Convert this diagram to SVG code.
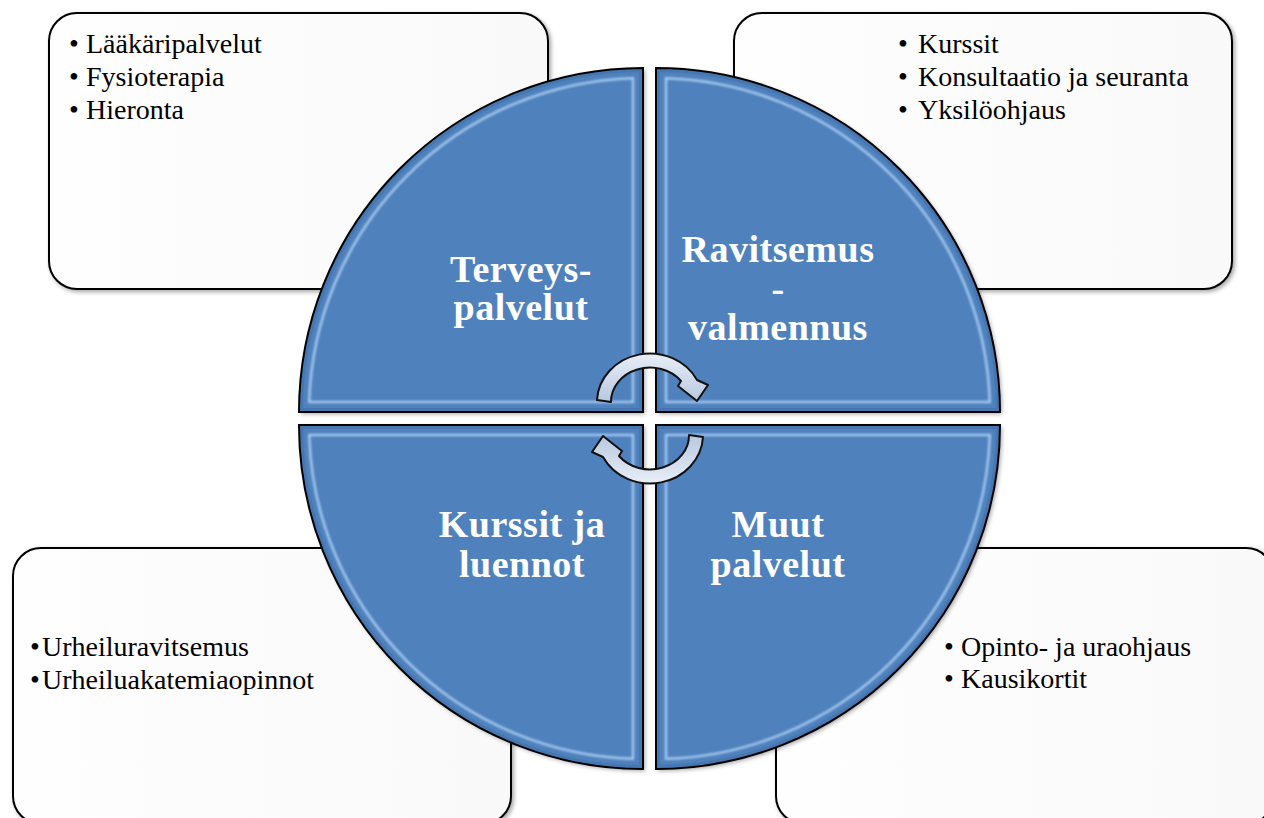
<svg xmlns="http://www.w3.org/2000/svg" xmlns:xlink="http://www.w3.org/1999/xlink" width="1264" height="818" viewBox="0 0 1264 818">
<style>
.box{fill:url(#boxGrad);stroke:#000;stroke-width:2}
.item{font-family:"Liberation Serif","Times New Roman",serif;font-size:28px;fill:#000}
.title{font-family:"Liberation Serif","Times New Roman",serif;font-size:38px;font-weight:bold;fill:#fff;text-anchor:middle;letter-spacing:0.5px}
.qfill{fill:#4f81bd}
.band{fill:none;stroke:#2c5a90;stroke-opacity:0.25;stroke-width:8}
.hl{fill:none;stroke:#bfe0ff;stroke-width:2.5;stroke-opacity:0.75}
.qedge{fill:none;stroke:#000;stroke-width:2}
.arrow{fill:url(#arrGrad);stroke:#111;stroke-width:2;stroke-linejoin:round}
</style>
<defs>
<linearGradient id="boxGrad" x1="0" y1="0" x2="1" y2="0">
<stop offset="0" stop-color="#fefefe"/>
<stop offset="1" stop-color="#f9f9f9"/>
</linearGradient>
<linearGradient id="arrGrad" x1="0" y1="0" x2="0" y2="1">
<stop offset="0" stop-color="#e8eef7"/>
<stop offset="1" stop-color="#b8c8df"/>
</linearGradient>
<filter id="shadow" x="-5%" y="-5%" width="110%" height="110%">
<feGaussianBlur in="SourceAlpha" stdDeviation="2"/>
<feOffset dx="1.5" dy="2" result="b"/>
<feFlood flood-color="#000" flood-opacity="0.35"/>
<feComposite in2="b" operator="in"/>
<feMerge><feMergeNode/><feMergeNode in="SourceGraphic"/></feMerge>
</filter>
<filter id="soft" x="-5%" y="-5%" width="110%" height="110%">
<feGaussianBlur stdDeviation="1"/>
</filter>
<path id="qTL" d="M643,412 L299,412 A344,344 0 0 1 643,68 Z"/>
<path id="qTR" d="M656,412 L656,68 A344,344 0 0 1 1000,412 Z"/>
<path id="qBR" d="M656,425 L1000,425 A344,344 0 0 1 656,769 Z"/>
<path id="qBL" d="M643,425 L643,769 A344,344 0 0 1 299,425 Z"/>
<clipPath id="cTL"><use xlink:href="#qTL"/></clipPath>
<clipPath id="cTR"><use xlink:href="#qTR"/></clipPath>
<clipPath id="cBR"><use xlink:href="#qBR"/></clipPath>
<clipPath id="cBL"><use xlink:href="#qBL"/></clipPath>
<path id="arrowTop" d="M597,400 A53,49 0 0 1 697,380 L708,385 L697,401 L678,386 L681,381 A39,34 0 0 0 611,402 Z"/>
</defs>

<rect width="1264" height="818" fill="#fff"/>

<g id="box-terveys">
<rect class="box" x="49" y="13" width="499" height="276" rx="28" filter="url(#shadow)"/>
<text class="item" y="53"><tspan x="69">•</tspan><tspan x="86">Lääkäripalvelut</tspan></text>
<text class="item" y="86"><tspan x="69">•</tspan><tspan x="86">Fysioterapia</tspan></text>
<text class="item" y="119"><tspan x="69">•</tspan><tspan x="86">Hieronta</tspan></text>
</g>
<g id="box-ravitsemus">
<rect class="box" x="734" y="13" width="498" height="276" rx="28" filter="url(#shadow)"/>
<text class="item" y="53"><tspan x="898">•</tspan><tspan x="918">Kurssit</tspan></text>
<text class="item" y="86"><tspan x="898">•</tspan><tspan x="918">Konsultaatio ja seuranta</tspan></text>
<text class="item" y="119"><tspan x="898">•</tspan><tspan x="918">Yksilöohjaus</tspan></text>
</g>
<g id="box-kurssit">
<rect class="box" x="13" y="548" width="498" height="276" rx="28" filter="url(#shadow)"/>
<text class="item" y="656"><tspan x="30">•</tspan><tspan x="42">Urheiluravitsemus</tspan></text>
<text class="item" y="689"><tspan x="30">•</tspan><tspan x="42">Urheiluakatemiaopinnot</tspan></text>
</g>
<g id="box-muut">
<rect class="box" x="776" y="548" width="498" height="276" rx="28" filter="url(#shadow)"/>
<text class="item" y="656"><tspan x="944">•</tspan><tspan x="961">Opinto- ja uraohjaus</tspan></text>
<text class="item" y="688"><tspan x="944">•</tspan><tspan x="961">Kausikortit</tspan></text>
</g>

<g id="node-terveyspalvelut">
<use xlink:href="#qTL" class="qfill" filter="url(#shadow)"/>
<g clip-path="url(#cTL)">
<use xlink:href="#qTL" class="band"/>
<path class="hl" filter="url(#soft)" d="M633,402 L309.2,402 A334,334 0 0 1 633,78.2 Z"/>
</g>
<use xlink:href="#qTL" class="qedge"/>
<text class="title" x="521" y="282">Terveys-</text>
<text class="title" x="521" y="320">palvelut</text>
</g>

<g id="node-ravitsemus">
<use xlink:href="#qTR" class="qfill" filter="url(#shadow)"/>
<g clip-path="url(#cTR)">
<use xlink:href="#qTR" class="band"/>
<path class="hl" filter="url(#soft)" d="M666,402 L666,78.2 A334,334 0 0 1 989.8,402 Z"/>
</g>
<use xlink:href="#qTR" class="qedge"/>
<text class="title" x="778" y="262">Ravitsemus</text>
<text class="title" x="778" y="301">-</text>
<text class="title" x="778" y="340">valmennus</text>
</g>

<g id="node-muut">
<use xlink:href="#qBR" class="qfill" filter="url(#shadow)"/>
<g clip-path="url(#cBR)">
<use xlink:href="#qBR" class="band"/>
<path class="hl" filter="url(#soft)" d="M666,435 L989.8,435 A334,334 0 0 1 666,758.8 Z"/>
</g>
<use xlink:href="#qBR" class="qedge"/>
<text class="title" x="778" y="537">Muut</text>
<text class="title" x="778" y="577">palvelut</text>
</g>

<g id="node-kurssit">
<use xlink:href="#qBL" class="qfill" filter="url(#shadow)"/>
<g clip-path="url(#cBL)">
<use xlink:href="#qBL" class="band"/>
<path class="hl" filter="url(#soft)" d="M633,435 L633,758.8 A334,334 0 0 1 309.2,435 Z"/>
</g>
<use xlink:href="#qBL" class="qedge"/>
<text class="title" x="522" y="537">Kurssit ja</text>
<text class="title" x="522" y="577">luennot</text>
</g>

<g id="connectors">
<use xlink:href="#arrowTop" class="arrow"/>
<use xlink:href="#arrowTop" class="arrow" transform="rotate(180 650 418.5)"/>
</g>
</svg>
